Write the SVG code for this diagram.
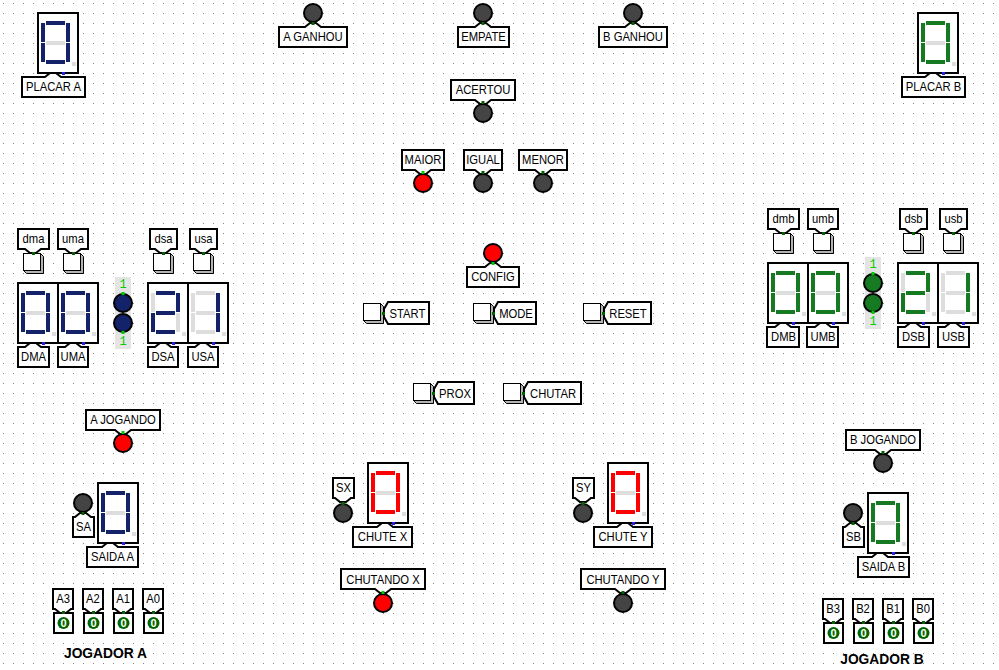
<svg xmlns="http://www.w3.org/2000/svg" width="999" height="670" viewBox="0 0 999 670">
<style>
text{font-family:"Liberation Sans",Arial,sans-serif;font-size:12.5px;text-anchor:middle;fill:#000;transform-box:fill-box;transform-origin:center;transform:translateY(.5px) scaleX(.9)}
.l{fill:#fff;stroke:#000;stroke-width:2;stroke-linejoin:miter}
.box{fill:#fff;stroke:#000;stroke-width:2}
.on{fill:currentColor}
.off{fill:#ddd}
.blue{color:#142369}
.green{color:#157a21}
.red{color:#f00}
.led{stroke:#000;stroke-width:2}
.g0{fill:#444}
.r1{fill:#f00}
.b1{fill:#142369}
.v1{fill:#157a21}
.p0{fill:#006400}
.p1{fill:#0c0}
.pb{fill:#22e}
.bg{fill:#e4e4e4}
text.num{font-family:"Liberation Mono",monospace;font-size:12px;fill:#0c0;transform:none}
text.zero{font-size:11px;font-weight:bold;fill:#fff;transform:none}
text.big{font-size:13.8px;font-weight:bold;transform:none}
.sh{fill:#b4b4b4;stroke:#000;stroke-width:1}
.w{fill:#fff;stroke:#000;stroke-width:1}
</style>
<defs>
<pattern id="grid" width="10" height="10" patternUnits="userSpaceOnUse"><rect x="3" y="3" width="1" height="1" fill="#888"/></pattern>
<rect id="a" x="8" y="8" width="19" height="4"/>
<rect id="g" x="8" y="28" width="19" height="4"/>
<rect id="d" x="8" y="47" width="19" height="4"/>
<rect id="f" x="3" y="10" width="4" height="19"/>
<rect id="e" x="3" y="30" width="4" height="19"/>
<rect id="b" x="28" y="10" width="4" height="19"/>
<rect id="c" x="28" y="30" width="4" height="19"/>
<g id="frame"><rect class="box" width="40" height="60"/><rect class="off" x="34" y="49" width="4" height="4"/><rect class="pb" x="24" y="59" width="3" height="3"/></g>
<g id="d0"><use href="#frame"/><use href="#g" class="off"/><g class="on"><use href="#a"/><use href="#b"/><use href="#c"/><use href="#d"/><use href="#e"/><use href="#f"/></g></g>
<g id="d1"><use href="#frame"/><g class="off"><use href="#a"/><use href="#d"/><use href="#e"/><use href="#f"/><use href="#g"/></g><g class="on"><use href="#b"/><use href="#c"/></g></g>
<g id="d2"><use href="#frame"/><g class="off"><use href="#c"/><use href="#f"/></g><g class="on"><use href="#a"/><use href="#b"/><use href="#g"/><use href="#e"/><use href="#d"/></g></g>
<g id="btn"><path class="sh" d="M17 0l3 3v17H3l-3-3z"/><rect class="w" width="17" height="17"/></g>
</defs>
<rect width="999" height="670" fill="#fff"/>
<rect width="999" height="670" fill="url(#grid)"/>

<g id="placar-a"><use href="#d0" x="38" y="13" class="blue"/><path class="l" d="M22 77H45l5-4h6l5 4H85V97H22Z"/><text x="53.500" y="91">PLACAR A</text></g>
<g id="placar-b"><use href="#d0" x="918" y="13" class="green"/><path class="l" d="M902 77H925l5-4h6l5 4H965V97H902Z"/><text x="933.500" y="91">PLACAR B</text></g>

<g id="a-ganhou"><circle class="led g0" cx="313" cy="13" r="9"/><path class="l" d="M279 27H305l5-4h6l5 4H347V47H279Z"/><rect class="p0" x="311.500" y="22" width="3" height="3"/><text x="313" y="41">A GANHOU</text></g>
<g id="empate"><circle class="led g0" cx="483" cy="13" r="9"/><path class="l" d="M458 27H475l5-4h6l5 4H509V47H458Z"/><rect class="p0" x="481.500" y="22" width="3" height="3"/><text x="483.500" y="41">EMPATE</text></g>
<g id="b-ganhou"><circle class="led g0" cx="633" cy="13" r="9"/><path class="l" d="M599 27H625l5-4h6l5 4H667V47H599Z"/><rect class="p0" x="631.500" y="22" width="3" height="3"/><text x="633" y="41">B GANHOU</text></g>

<g id="acertou"><circle class="led g0" cx="483" cy="113" r="9"/><path class="l" d="M451 80H515V100H491l-5 4h-6l-5-4H451Z"/><rect class="p0" x="481.500" y="101" width="3" height="3"/><text x="483" y="94">ACERTOU</text></g>
<g id="maior"><circle class="led r1" cx="423" cy="183" r="9"/><path class="l" d="M402 150H444V170H431l-5 4h-6l-5-4H402Z"/><rect class="p1" x="421.500" y="171" width="3" height="3"/><text x="423" y="164">MAIOR</text></g>
<g id="igual"><circle class="led g0" cx="483" cy="183" r="9"/><path class="l" d="M464 150H502V170H491l-5 4h-6l-5-4H464Z"/><rect class="p0" x="481.500" y="171" width="3" height="3"/><text x="483" y="164">IGUAL</text></g>
<g id="menor"><circle class="led g0" cx="543" cy="183" r="9"/><path class="l" d="M519 150H567V170H551l-5 4h-6l-5-4H519Z"/><rect class="p0" x="541.500" y="171" width="3" height="3"/><text x="543" y="164">MENOR</text></g>
<g id="config"><circle class="led r1" cx="493" cy="253" r="9"/><path class="l" d="M467 267H485l5-4h6l5 4H519V287H467Z"/><rect class="p1" x="491.500" y="262" width="3" height="3"/><text x="493" y="281">CONFIG</text></g>

<g id="start"><use href="#btn" x="363.500" y="303.500"/><path class="l" d="M388 302H429V324H388L384 317V309Z"/><rect class="p0" x="382" y="312" width="3" height="3"/><text x="407.500" y="318">START</text></g>
<g id="mode"><use href="#btn" x="473.500" y="303.500"/><path class="l" d="M498 302H536V324H498L494 317V309Z"/><rect class="p0" x="492" y="312" width="3" height="3"/><text x="516" y="318">MODE</text></g>
<g id="reset"><use href="#btn" x="583.500" y="303.500"/><path class="l" d="M608 302H651V324H608L604 317V309Z"/><rect class="p0" x="602" y="312" width="3" height="3"/><text x="628" y="318">RESET</text></g>
<g id="prox"><use href="#btn" x="413.500" y="383.500"/><path class="l" d="M438 382H474V404H438L434 397V389Z"/><rect class="p0" x="432" y="392" width="3" height="3"/><text x="455" y="398">PROX</text></g>
<g id="chutar"><use href="#btn" x="503.500" y="383.500"/><path class="l" d="M528 382H581V404H528L524 397V389Z"/><rect class="p0" x="522" y="392" width="3" height="3"/><text x="553" y="398">CHUTAR</text></g>

<g id="in-dma"><use href="#btn" x="23.500" y="253.500"/><path class="l" d="M18 229H49V249H41l-5 4h-6l-5-4H18Z"/><rect class="p0" x="32" y="252" width="3" height="3"/><text x="33.500" y="243">dma</text></g>
<g id="in-uma"><use href="#btn" x="63.500" y="253.500"/><path class="l" d="M58 229H88V249H81l-5 4h-6l-5-4H58Z"/><rect class="p0" x="72" y="252" width="3" height="3"/><text x="73" y="243">uma</text></g>
<g id="in-dsa"><use href="#btn" x="153.500" y="253.500"/><path class="l" d="M150 229H177V249H171l-5 4h-6l-5-4H150Z"/><rect class="p0" x="162" y="252" width="3" height="3"/><text x="163.500" y="243">dsa</text></g>
<g id="in-usa"><use href="#btn" x="193.500" y="253.500"/><path class="l" d="M190 229H217V249H211l-5 4h-6l-5-4H190Z"/><rect class="p0" x="202" y="252" width="3" height="3"/><text x="203.500" y="243">usa</text></g>

<g id="dma"><use href="#d0" x="18" y="283" class="blue"/><path class="l" d="M18 347H25l5-4h6l5 4H49V367H18Z"/><text x="33.500" y="361">DMA</text></g>
<g id="uma"><use href="#d0" x="58" y="283" class="blue"/><path class="l" d="M58 347H65l5-4h6l5 4H88V367H58Z"/><text x="73" y="361">UMA</text></g>
<g id="dsa"><use href="#d2" x="148" y="283" class="blue"/><path class="l" d="M148 347H155l5-4h6l5 4H178V367H148Z"/><text x="163" y="361">DSA</text></g>
<g id="usa"><use href="#d1" x="188" y="283" class="blue"/><path class="l" d="M188 347H195l5-4h6l5 4H218V367H188Z"/><text x="203" y="361">USA</text></g>

<g id="sep-a"><rect class="bg" x="115" y="277" width="16" height="72"/><circle class="led b1" cx="123" cy="303" r="9"/><circle class="led b1" cx="123" cy="323" r="9"/><rect class="p1" x="121.500" y="292" width="3" height="3"/><rect class="p1" x="121.500" y="331" width="3" height="3"/><text class="num" x="123" y="288">1</text><text class="num" x="123" y="345">1</text></g>

<g id="in-dmb"><use href="#btn" x="773.500" y="233.500"/><path class="l" d="M768 209H799V229H791l-5 4h-6l-5-4H768Z"/><rect class="p0" x="782" y="232" width="3" height="3"/><text x="783.500" y="223">dmb</text></g>
<g id="in-umb"><use href="#btn" x="813.500" y="233.500"/><path class="l" d="M808 209H838V229H831l-5 4h-6l-5-4H808Z"/><rect class="p0" x="822" y="232" width="3" height="3"/><text x="823" y="223">umb</text></g>
<g id="in-dsb"><use href="#btn" x="903.500" y="233.500"/><path class="l" d="M900 209H927V229H921l-5 4h-6l-5-4H900Z"/><rect class="p0" x="912" y="232" width="3" height="3"/><text x="913.500" y="223">dsb</text></g>
<g id="in-usb"><use href="#btn" x="943.500" y="233.500"/><path class="l" d="M940 209H967V229H961l-5 4h-6l-5-4H940Z"/><rect class="p0" x="952" y="232" width="3" height="3"/><text x="953.500" y="223">usb</text></g>

<g id="dmb"><use href="#d0" x="768" y="263" class="green"/><path class="l" d="M767 327H775l5-4h6l5 4H799V347H767Z"/><text x="783.500" y="341">DMB</text></g>
<g id="umb"><use href="#d0" x="808" y="263" class="green"/><path class="l" d="M807 327H815l5-4h6l5 4H838V347H807Z"/><text x="823" y="341">UMB</text></g>
<g id="dsb"><use href="#d2" x="898" y="263" class="green"/><path class="l" d="M898 327H905l5-4h6l5 4H929V347H898Z"/><text x="913.500" y="341">DSB</text></g>
<g id="usb"><use href="#d1" x="938" y="263" class="green"/><path class="l" d="M938 327H945l5-4h6l5 4H969V347H938Z"/><text x="953.500" y="341">USB</text></g>

<g id="sep-b"><rect class="bg" x="865" y="257" width="16" height="72"/><circle class="led v1" cx="873" cy="283" r="9"/><circle class="led v1" cx="873" cy="303" r="9"/><rect class="p1" x="871.500" y="272" width="3" height="3"/><rect class="p1" x="871.500" y="311" width="3" height="3"/><text class="num" x="873" y="268">1</text><text class="num" x="873" y="325">1</text></g>

<g id="a-jogando"><circle class="led r1" cx="123" cy="443" r="9"/><path class="l" d="M86 410H160V430H131l-5 4h-6l-5-4H86Z"/><rect class="p1" x="121.500" y="431" width="3" height="3"/><text x="123" y="424">A JOGANDO</text></g>
<g id="sa"><circle class="led g0" cx="83" cy="503" r="9"/><path class="l" d="M73 517H75l5-4h6l5 4H94V537H73Z"/><rect class="p0" x="81.500" y="512" width="3" height="3"/><text x="83.500" y="531">SA</text></g>
<g id="saida-a"><use href="#d0" x="98" y="483" class="blue"/><path class="l" d="M87 547H102l5-4h6l5 4H138V567H87Z"/><text x="112.500" y="561">SAIDA A</text></g>

<g id="a3"><rect class="box" x="54" y="613" width="19" height="20"/><circle cx="63.500" cy="623" r="6" class="p0"/><text class="zero" x="63.500" y="627">0</text><path class="l" d="M53 589H73V609H71l-5 4h-6l-5-4H53Z"/><rect class="p0" x="62" y="611" width="3" height="3"/><text x="63" y="603">A3</text></g>
<g id="a2"><rect class="box" x="84" y="613" width="19" height="20"/><circle cx="93.500" cy="623" r="6" class="p0"/><text class="zero" x="93.500" y="627">0</text><path class="l" d="M83 589H103V609H101l-5 4h-6l-5-4H83Z"/><rect class="p0" x="92" y="611" width="3" height="3"/><text x="93" y="603">A2</text></g>
<g id="a1"><rect class="box" x="114" y="613" width="19" height="20"/><circle cx="123.500" cy="623" r="6" class="p0"/><text class="zero" x="123.500" y="627">0</text><path class="l" d="M113 589H133V609H131l-5 4h-6l-5-4H113Z"/><rect class="p0" x="122" y="611" width="3" height="3"/><text x="123" y="603">A1</text></g>
<g id="a0"><rect class="box" x="144" y="613" width="19" height="20"/><circle cx="153.500" cy="623" r="6" class="p0"/><text class="zero" x="153.500" y="627">0</text><path class="l" d="M143 589H163V609H161l-5 4h-6l-5-4H143Z"/><rect class="p0" x="152" y="611" width="3" height="3"/><text x="153" y="603">A0</text></g>
<text id="jogador-a" class="big" x="105.500" y="658">JOGADOR A</text>

<g id="sx"><circle class="led g0" cx="343" cy="513" r="9"/><path class="l" d="M333 478H354V498H351l-5 4h-6l-5-4H333Z"/><rect class="p0" x="341.500" y="502" width="3" height="3"/><text x="343.500" y="492">SX</text></g>
<g id="chute-x"><use href="#d0" x="368" y="463" class="red"/><path class="l" d="M353 527H377l5-4h6l5 4H412V547H353Z"/><text x="382.500" y="541">CHUTE X</text></g>
<g id="chutando-x"><circle class="led r1" cx="383" cy="603" r="9"/><path class="l" d="M341 569H425V589H391l-5 4h-6l-5-4H341Z"/><rect class="p1" x="381.500" y="591" width="3" height="3"/><text x="383" y="584">CHUTANDO X</text></g>

<g id="sy"><circle class="led g0" cx="583" cy="513" r="9"/><path class="l" d="M573 478H594V498H591l-5 4h-6l-5-4H573Z"/><rect class="p0" x="581.500" y="502" width="3" height="3"/><text x="583.500" y="492">SY</text></g>
<g id="chute-y"><use href="#d0" x="608" y="463" class="red"/><path class="l" d="M594 527H617l5-4h6l5 4H652V547H594Z"/><text x="623" y="541">CHUTE Y</text></g>
<g id="chutando-y"><circle class="led g0" cx="623" cy="603" r="9"/><path class="l" d="M581 569H665V589H631l-5 4h-6l-5-4H581Z"/><rect class="p0" x="621.500" y="591" width="3" height="3"/><text x="623" y="584">CHUTANDO Y</text></g>

<g id="b-jogando"><circle class="led g0" cx="883" cy="463" r="9"/><path class="l" d="M846 430H920V450H891l-5 4h-6l-5-4H846Z"/><rect class="p0" x="881.500" y="451" width="3" height="3"/><text x="883" y="444">B JOGANDO</text></g>
<g id="sb"><circle class="led g0" cx="853" cy="513" r="9"/><path class="l" d="M843 527H845l5-4h6l5 4H864V547H843Z"/><rect class="p0" x="851.500" y="522" width="3" height="3"/><text x="853.500" y="541">SB</text></g>
<g id="saida-b"><use href="#d0" x="868" y="493" class="green"/><path class="l" d="M858 557H872l5-4h6l5 4H909V577H858Z"/><text x="883.500" y="571">SAIDA B</text></g>

<g id="b3"><rect class="box" x="824" y="623" width="19" height="20"/><circle cx="833.500" cy="633" r="6" class="p0"/><text class="zero" x="833.500" y="637">0</text><path class="l" d="M823 599H843V619H841l-5 4h-6l-5-4H823Z"/><rect class="p0" x="832" y="621" width="3" height="3"/><text x="833" y="613">B3</text></g>
<g id="b2"><rect class="box" x="854" y="623" width="19" height="20"/><circle cx="863.500" cy="633" r="6" class="p0"/><text class="zero" x="863.500" y="637">0</text><path class="l" d="M853 599H873V619H871l-5 4h-6l-5-4H853Z"/><rect class="p0" x="862" y="621" width="3" height="3"/><text x="863" y="613">B2</text></g>
<g id="b1"><rect class="box" x="884" y="623" width="19" height="20"/><circle cx="893.500" cy="633" r="6" class="p0"/><text class="zero" x="893.500" y="637">0</text><path class="l" d="M883 599H903V619H901l-5 4h-6l-5-4H883Z"/><rect class="p0" x="892" y="621" width="3" height="3"/><text x="893" y="613">B1</text></g>
<g id="b0"><rect class="box" x="914" y="623" width="19" height="20"/><circle cx="923.500" cy="633" r="6" class="p0"/><text class="zero" x="923.500" y="637">0</text><path class="l" d="M913 599H933V619H931l-5 4h-6l-5-4H913Z"/><rect class="p0" x="922" y="621" width="3" height="3"/><text x="923" y="613">B0</text></g>
<text id="jogador-b" class="big" x="882" y="664">JOGADOR B</text>
</svg>
